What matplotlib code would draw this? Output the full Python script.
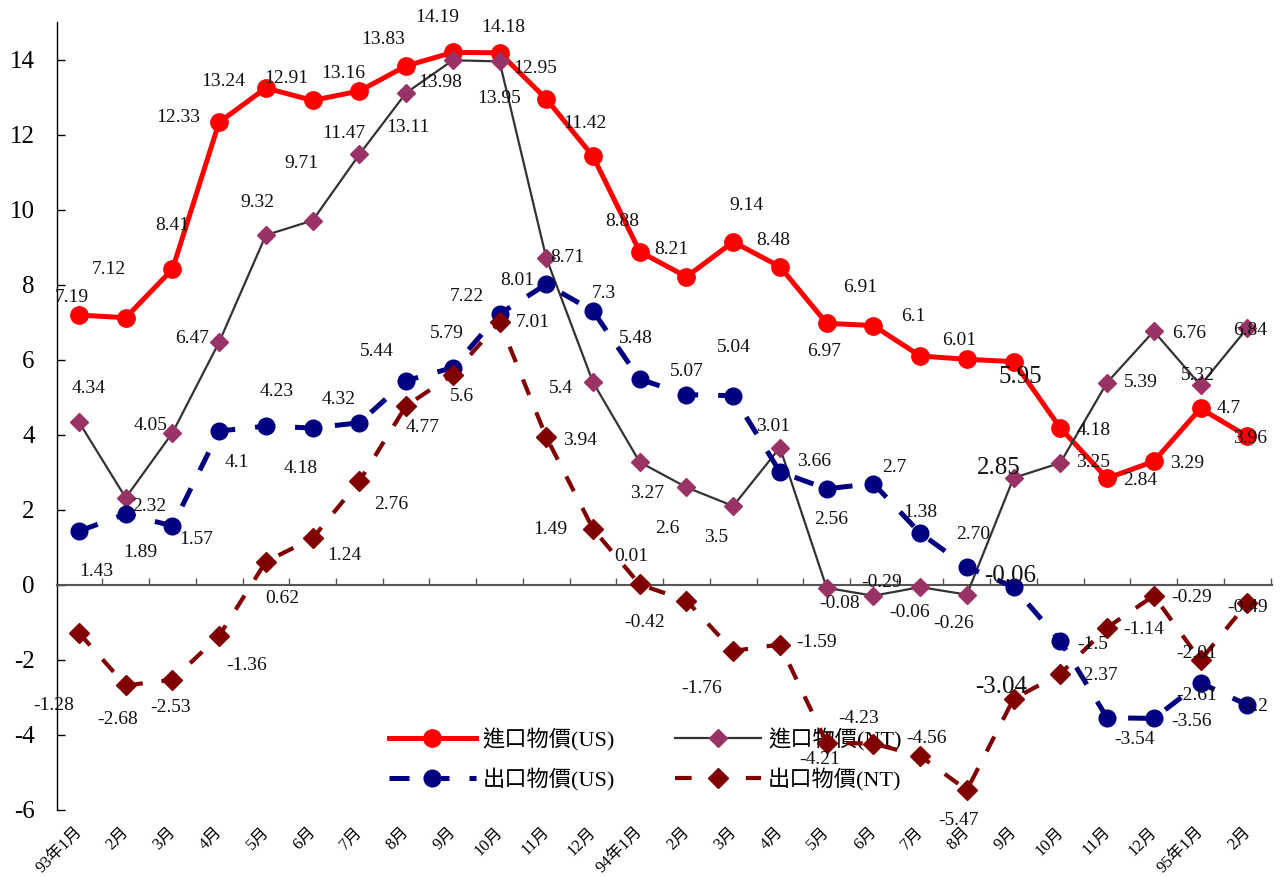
import matplotlib
matplotlib.use("Agg")
import matplotlib.pyplot as plt

# x categories (93/1 .. 95/2)
months = ["93年1月", "2月", "3月", "4月", "5月", "6月", "7月", "8月", "9月", "10月", "11月", "12月",
          "94年1月", "2月", "3月", "4月", "5月", "6月", "7月", "8月", "9月", "10月", "11月", "12月",
          "95年1月", "2月"]

imp_us = [7.19, 7.12, 8.41, 12.33, 13.24, 12.91, 13.16, 13.83, 14.19, 14.18, 12.95, 11.42, 8.88,
          8.21, 9.14, 8.48, 6.97, 6.91, 6.1, 6.01, 5.95, 4.18, 2.84, 3.29, 4.7, 3.96]
imp_nt = [4.34, 2.32, 4.05, 6.47, 9.32, 9.71, 11.47, 13.11, 13.98, 13.95, 8.71, 5.4, 3.27,
          2.6, 2.1, 3.66, -0.08, -0.29, -0.06, -0.26, 2.85, 3.25, 5.39, 6.76, 5.32, 6.84]
exp_us = [1.43, 1.89, 1.57, 4.1, 4.23, 4.18, 4.32, 5.44, 5.79, 7.22, 8.01, 7.3, 5.48,
          5.07, 5.04, 3.01, 2.56, 2.7, 1.38, 0.48, -0.06, -1.5, -3.54, -3.56, -2.61, -3.2]
exp_nt = [-1.28, -2.68, -2.53, -1.36, 0.62, 1.24, 2.76, 4.77, 5.6, 7.01, 3.94, 1.49, 0.01,
          -0.42, -1.76, -1.59, -4.21, -4.23, -4.56, -5.47, -3.04, -2.37, -1.14, -0.29, -2.01, -0.49]

# data labels as printed on the original (a couple do not match the plotted value)
imp_us_lbl = [str(v) for v in imp_us]
imp_nt_lbl = [str(v) for v in imp_nt]
imp_nt_lbl[14] = "3.5"
exp_us_lbl = [str(v) for v in exp_us]
exp_us_lbl[19] = "2.70"
exp_nt_lbl = [str(v) for v in exp_nt]

# label offsets from the point, in pixels (x right, y up)
imp_us_off = [(-7, 18), (-17, 48), (0, 44), (-41, 5), (-43, 7), (-26, 22), (-16, 18), (-23, 26),
              (-16, 35), (4, 25), (-11, 30), (-8, 33), (-17, 30), (-15, 27), (13, 36), (-7, 26),
              (-3, -28), (-13, 38), (-7, 39), (-8, 19), (7, -15), (33, -2), (33, -2), (33, -2),
              (28, 0), (3, -2)]
imp_nt_off = [(10, 34), (24, -9), (-22, 7), (-27, 4), (-8, 33), (-11, 57), (-16, 21), (2, -35),
              (-13, -22), (0, -37), (21, 1), (-32, -6), (7, -31), (-19, -41), (-17, -31), (34, -14),
              (13, -16), (8, 13), (-11, -25), (-13, -29), (-15, 10), (33, 0), (34, 0), (35, -2),
              (-3, 10), (3, -2)]
exp_us_off = [(17, -40), (15, -39), (24, -14), (18, -31), (11, 35), (-12, -40), (-21, 23), (-29, 29),
              (-6, 34), (-33, 17), (-29, 4), (11, 17), (-4, 41), (0, 23), (1, 48), (-7, 45),
              (4, -31), (21, 16), (0, 21), (6, 32), (-3, 11), (32, -3), (27, -22), (38, -3),
              (-4, -13), (6, -2)]
exp_nt_off = [(-25, -73), (-8, -34), (-2, -28), (27, -30), (16, -37), (32, -17), (32, -23), (17, -22),
              (9, -22), (33, -1), (34, -3), (-43, -1), (-8, 28), (-42, -22), (-32, -38), (37, 2),
              (-7, -17), (-15, 25), (6, 17), (-8, -30), (-12, 12), (37, -2), (37, -2), (38, -2),
              (-4, 7), (0, -4)]

BIG = {20}  # the 94年9月 labels are drawn larger

SERIF = ["Liberation Serif", "Noto Sans CJK TC"]
plt.rcParams["font.family"] = SERIF
plt.rcParams["axes.unicode_minus"] = False

fig = plt.figure(figsize=(12.85, 8.77), dpi=100)
ax = fig.add_axes([57 / 1285, 1 - 810 / 877, (1272 - 57) / 1285, (810 - 22) / 877])

x = list(range(len(months)))

l1, = ax.plot(x, imp_us, color="#FF0000", lw=3.6, marker="o", ms=12.5,
              label="進口物價(US)", zorder=3)
l2, = ax.plot(x, imp_nt, color="#333333", lw=1.6, marker="D", ms=9.5,
              markerfacecolor="#993366", markeredgecolor="#993366", label="進口物價(NT)", zorder=4)
l3, = ax.plot(x, exp_us, color="#000080", lw=3.6, ls=(0, (4, 4)), marker="o", ms=12,
              label="出口物價(US)", zorder=5)
l4, = ax.plot(x, exp_nt, color="#800000", lw=3.0, ls=(0, (4, 4.5)), marker="D", ms=10,
              label="出口物價(NT)", zorder=6)


def put_labels(vals, lbls, offs):
    for i, (v, s, o) in enumerate(zip(vals, lbls, offs)):
        ax.annotate(s, xy=(i, v), xytext=o, textcoords="offset pixels",
                    ha="center", va="center", fontsize=18 if i in BIG else 14,
                    color="#111111", zorder=10)


put_labels(imp_us, imp_us_lbl, imp_us_off)
put_labels(imp_nt, imp_nt_lbl, imp_nt_off)
put_labels(exp_us, exp_us_lbl, exp_us_off)
put_labels(exp_nt, exp_nt_lbl, exp_nt_off)

ax.set_xlim(-0.47, len(months) - 0.47)
ax.set_ylim(-6, 15)
ax.set_yticks(range(-6, 16, 2))
ax.tick_params(axis="y", direction="in", length=6, width=1, pad=16, labelsize=18)
ax.set_xticks([i + 0.5 for i in x[:-1]] + [len(months) - 0.5])
ax.set_xticklabels([])
ax.tick_params(axis="x", direction="in", length=5, width=1, color="#555555")

ax.spines["top"].set_visible(False)
ax.spines["right"].set_visible(False)
ax.spines["bottom"].set_position(("data", 0))
ax.spines["bottom"].set_color("#555555")
ax.spines["bottom"].set_linewidth(1.5)
ax.spines["left"].set_linewidth(1)

# month labels sit below the plot area, not on the zero line
for i, m in enumerate(months):
    ax.annotate(m, xy=(i, 0), xycoords=("data", "axes fraction"), xytext=(-5, -14),
                textcoords="offset pixels", ha="right", va="top", rotation=45,
                rotation_mode="anchor", fontsize=12)

ax.legend(handles=[l1, l3, l2, l4], ncol=2, frameon=False, fontsize=16,
          loc="upper left", bbox_to_anchor=(378 / 1285, 1 - 717 / 877),
          bbox_transform=fig.transFigure, handlelength=3.9, handletextpad=0.3,
          columnspacing=2.7, labelspacing=0.75, borderpad=0)

fig.savefig("out.png", dpi=100)
